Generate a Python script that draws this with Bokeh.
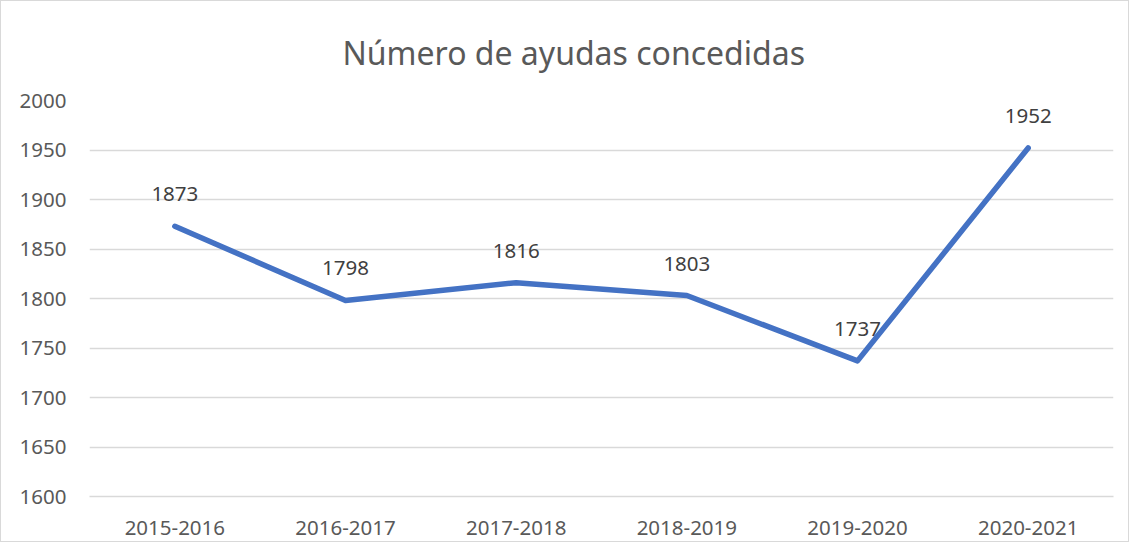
from bokeh.plotting import figure
from bokeh.models import Range1d, FactorRange
from bokeh.core.properties import value
from bokeh.embed import file_html
from bokeh.resources import INLINE

categories = ["2015-2016", "2016-2017", "2017-2018", "2018-2019", "2019-2020", "2020-2021"]
ayudas = [1873, 1798, 1816, 1803, 1737, 1952]
y_ticks = [1600, 1650, 1700, 1750, 1800, 1850, 1900, 1950, 2000]
title_text = "Número de ayudas concedidas"

FONT = "Noto Sans"

p = figure(
    width=1129, height=542,
    x_range=FactorRange(*categories, range_padding=0),
    y_range=Range1d(1600, 2000),
    output_backend="svg", toolbar_location=None,
    min_border_left=88, min_border_right=17, min_border_top=99, min_border_bottom=47,
)
p.title.text = title_text
p.title.align = "left"
p.title.offset = 253
p.title.vertical_align = "middle"
p.title.standoff = 52
p.title.text_font = FONT
p.title.text_font_size = "32px"
p.title.text_font_style = "normal"
p.title.text_color = "#595959"

p.outline_line_color = None
p.styles = {"border": "1px solid #d9d9d9"}

p.line(x=categories, y=ayudas, line_color="#4472C4", line_width=5.5, line_join="round", line_cap="round")
p.text(x=categories, y=ayudas, text=[str(v) for v in ayudas], y_offset=-32,
       text_align="center", text_baseline="middle", text_font=value(FONT),
       text_font_size="20.5px", text_color="#404040")

p.xgrid.grid_line_color = None
p.ygrid.grid_line_color = "#d9d9d9"
p.ygrid.grid_line_width = 1.5
p.yaxis.ticker = y_ticks
p.yaxis.axis_line_color = None
p.yaxis.major_tick_line_color = None
p.yaxis.minor_tick_line_color = None
p.yaxis.major_tick_out = 0
p.yaxis.major_label_standoff = 23
p.xaxis.axis_line_color = "#d9d9d9"
p.xaxis.axis_line_width = 1.5
p.xaxis.major_tick_line_color = None
p.xaxis.minor_tick_line_color = None
p.xaxis.major_tick_out = 0
p.xaxis.major_label_standoff = 24
for ax in (p.xaxis, p.yaxis):
    ax.major_label_text_font = FONT
    ax.major_label_text_font_size = "20.5px"
    ax.major_label_text_color = "#595959"

open("out.html", "w").write(file_html(p, INLINE))
